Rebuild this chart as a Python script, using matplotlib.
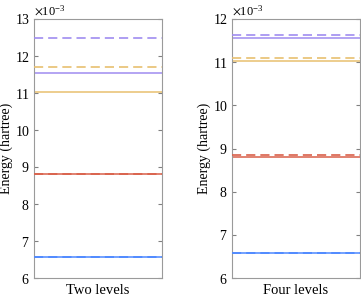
import numpy as np
import matplotlib
matplotlib.use('Agg')
import matplotlib.pyplot as plt
from matplotlib.ticker import ScalarFormatter

plt.rcParams['font.family'] = ['Liberation Serif', 'DejaVu Serif']
plt.rcParams['mathtext.fontset'] = 'stix'

# energies in hartree, order: blue, red, yellow, purple
colors = ['#4d88ff', '#d9604a', '#e8c070', '#9f8cf0']

two_solid = [6.58e-3, 8.81e-3, 11.03e-3, 11.55e-3]
two_dashed = [6.58e-3, 8.81e-3, 11.715e-3, 12.50e-3]
four_solid = [6.59e-3, 8.80e-3, 11.03e-3, 11.55e-3]
four_dashed = [6.59e-3, 8.84e-3, 11.10e-3, 11.62e-3]

panels = [
    ('Two levels', two_solid, two_dashed, (6e-3, 13e-3), np.arange(6, 14) * 1e-3),
    ('Four levels', four_solid, four_dashed, (6e-3, 12e-3), np.arange(6, 13) * 1e-3),
]

fig = plt.figure(figsize=(3.61, 2.97), dpi=100)
lefts = [34 / 361, 232 / 361]
for k, (name, solid, dashed, ylim, ticks) in enumerate(panels):
    ax = fig.add_axes([lefts[k], 19 / 297, 128 / 361, 259 / 297])
    for i in range(4):
        ax.hlines(solid[i], 0, 1, color=colors[i], lw=1.3, alpha=0.85, zorder=2)
        ax.hlines(dashed[i], 0, 1, color=colors[i], lw=1.2,
                  linestyles=(0, (5.5, 3.0)), zorder=3)
    ax.set_xlim(0, 1)
    ax.set_ylim(*ylim)
    ax.set_yticks(ticks)
    ax.set_xticks([])
    fmt = ScalarFormatter(useMathText=True)
    fmt.set_powerlimits((-3, -3))
    ax.yaxis.set_major_formatter(fmt)
    ax.yaxis.get_offset_text().set_fontsize(9)
    ax.tick_params(axis='y', direction='in', right=True, length=3,
                   labelsize=10, color='#808080', pad=3)
    for s in ax.spines.values():
        s.set_color('#9a9a9a')
        s.set_linewidth(0.8)
    ax.set_xlabel(name, fontsize=10.5, labelpad=4)
    ax.set_ylabel('Energy (hartree)', fontsize=10, labelpad=1)

fig.savefig('out.png', dpi=100)
